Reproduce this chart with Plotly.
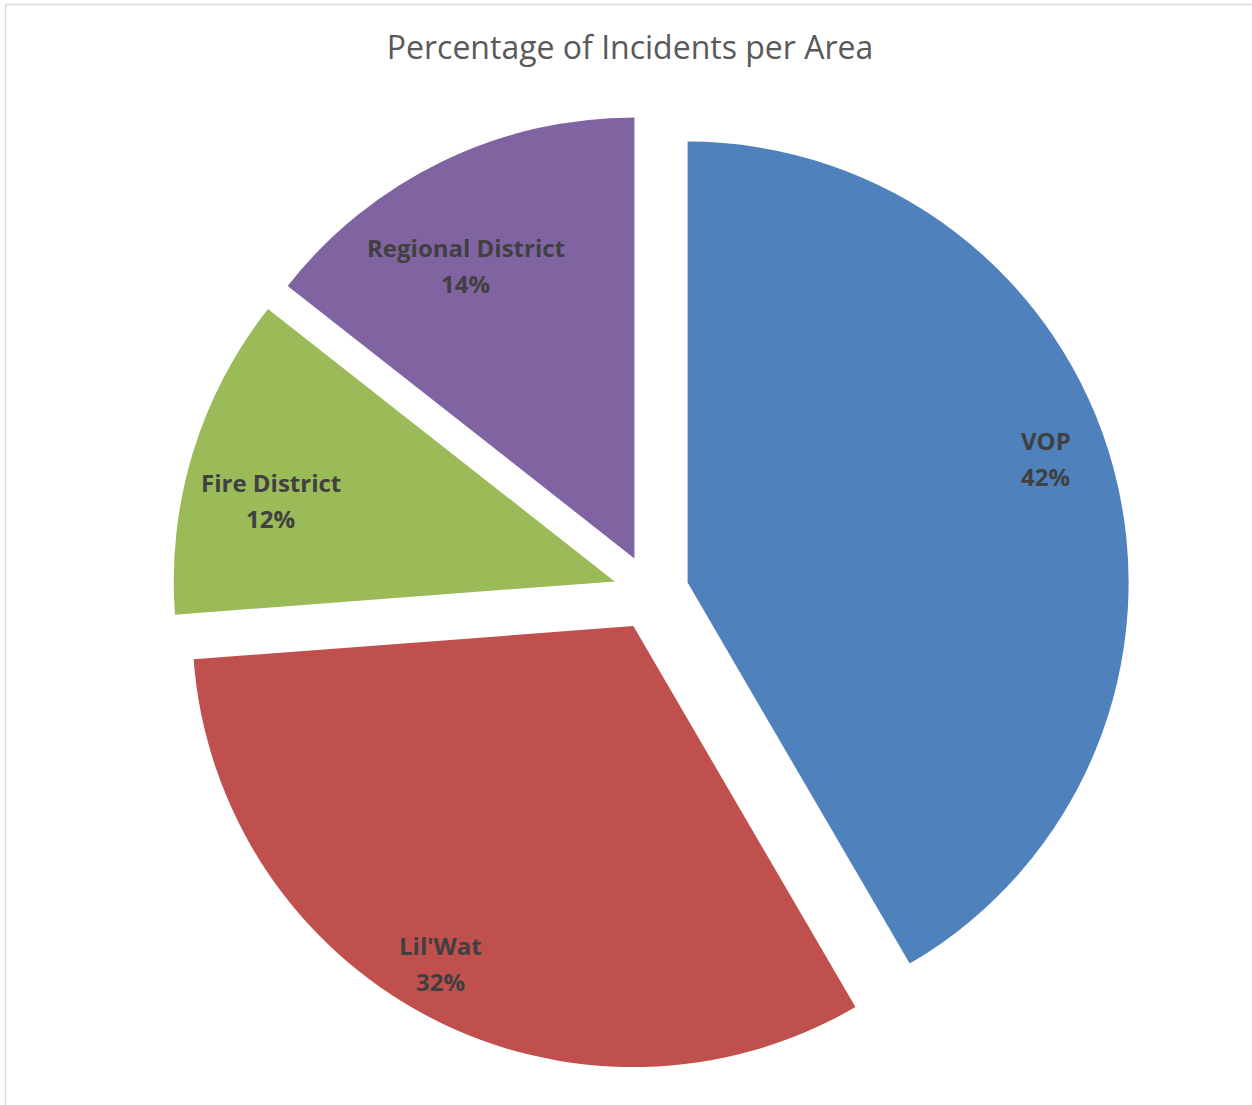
import math
import plotly.graph_objects as go

# ---- data ----
areas = ["VOP", "Lil'Wat", "Fire District", "Regional District"]
shares = [41.6, 32.2, 11.8, 14.4]          # percent of incidents
colors = ["#4F81BD", "#C0504D", "#9BBB59", "#8064A2"]
title_text = "Percentage of Incidents per Area"

# ---- styling / layout ----
W, H = 1252, 1105
CX, CY = 651.0, 592.5          # pie centre (px from top-left)
R = 441.0                       # pie radius (px)
PULL = 0.086                    # explode fraction
LABEL_SHIFT_Y = -3              # px
label_radius = [0.857, 0.886, 0.80, 0.76]      # label distance (fraction of R)
label_angle_nudge = [-3.5, 1.8, -4.1, -4.3]    # degrees
LINE_GAP = 36                   # px between label lines
LABEL_FONT = dict(family="Open Sans", size=24, color="#404040")

box = R * (2 + 2 * PULL)
dom_x = [(CX - box / 2) / W, (CX + box / 2) / W]
dom_y = [1 - (CY + box / 2) / H, 1 - (CY - box / 2) / H]

fig = go.Figure(go.Pie(
    labels=areas,
    values=shares,
    sort=False,
    direction="clockwise",
    rotation=0,
    pull=[PULL] * len(shares),
    marker=dict(colors=colors, line=dict(width=0)),
    textinfo="none",
    hoverinfo="label+percent",
    showlegend=False,
    domain=dict(x=dom_x, y=dom_y),
))

# labels computed from the data (mid-angle of each slice)
total = sum(shares)
cum = 0.0
annotations = []
for name, v, rf, nudge in zip(areas, shares, label_radius, label_angle_nudge):
    mid = (cum + v / 2) / total * 360.0
    cum += v
    a = math.radians(mid)
    sx = CX + PULL * R * math.sin(a)
    sy = CY - PULL * R * math.cos(a)
    b = math.radians(mid + nudge)
    px = sx + rf * R * math.sin(b)
    py = sy - rf * R * math.cos(b) + LABEL_SHIFT_Y
    pct = round(v / total * 100)
    for txt, dy in ((name, -LINE_GAP / 2), (f"{pct}%", LINE_GAP / 2)):
        annotations.append(dict(
            x=px / W, y=1 - (py + dy) / H, xref="paper", yref="paper",
            text=f"<b>{txt}</b>",
            showarrow=False, xanchor="center", yanchor="middle",
            font=LABEL_FONT,
        ))

fig.update_layout(
    width=W, height=H,
    margin=dict(l=0, r=0, t=0, b=0),
    paper_bgcolor="white",
    plot_bgcolor="white",
    title=dict(text=title_text, x=630 / W, xanchor="center",
               y=1 - 48 / H, yanchor="middle", yref="container",
               font=dict(family="Open Sans", size=32, color="#595959")),
    annotations=annotations,
    shapes=[
        dict(type="line", xref="paper", yref="paper",
             x0=5.5 / W, x1=1.01, y0=1 - 4.5 / H, y1=1 - 4.5 / H,
             line=dict(color="#D9D9D9", width=1.5)),
        dict(type="line", xref="paper", yref="paper",
             x0=5.5 / W, x1=5.5 / W, y0=-0.01, y1=1 - 4.5 / H,
             line=dict(color="#D9D9D9", width=1.5)),
    ],
)

fig.write_html(
    "out.html",
    config={"displayModeBar": False},
    post_script="document.body.style.margin='0';document.body.style.overflow='hidden';",
)
